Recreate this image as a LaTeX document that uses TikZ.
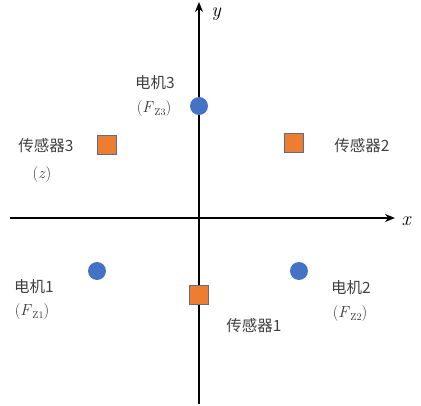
\documentclass[tikz,border=0pt]{standalone}
\usepackage{fontspec}
\newfontfamily\cjk{Noto Sans CJK SC}
\usetikzlibrary{arrows.meta}
\definecolor{mblue}{HTML}{4472C4}
\definecolor{sorange}{HTML}{ED7D31}
\definecolor{sborder}{HTML}{5A6E8C}
\newcommand{\fz}[1]{(\textit{F}\kern0.5pt\raisebox{-0.35ex}{\fontsize{10}{11}\selectfont Z#1})}
\begin{document}
\begin{tikzpicture}[x=1pt,y=-1pt,
  axis/.style={line width=2.8pt,-{Stealth[length=10pt,width=8pt]}},
  motor/.style={circle,fill=mblue,minimum size=18pt,inner sep=0pt},
  sensor/.style={rectangle,fill=sorange,draw=sborder,line width=1pt,minimum size=19pt,inner sep=0pt},
  lbl/.style={font=\cjk\fontsize{15.5}{17}\selectfont,text=black!75,inner sep=0pt},
  mlbl/.style={font=\fontsize{16}{18}\selectfont,text=black!80,inner sep=0pt},
  axlbl/.style={font=\fontsize{20}{22}\selectfont\itshape,inner sep=0pt}]
\useasboundingbox (0,0) rectangle (421,406);
\coordinate (xs) at (10,218);
\coordinate (xe) at (395,218);
\coordinate (ys) at (199,404);
\coordinate (ye) at (199,2);
\draw[axis] (xs) -- (xe);
\draw[axis] (ys) -- (ye);
\node[axlbl] (xl) at (406,221) {x};
\node[axlbl] (yl) at (216,14) {y};
\node[motor] (m3) at (199,106) {};
\node[motor] (m1) at (97,271) {};
\node[motor] (m2) at (299,271) {};
\node[sensor] (s3) at (107,145) {};
\node[sensor] (s2) at (294,143) {};
\node[sensor] (s1) at (199,295) {};
\node[lbl] (m3a) at (155,83) {电机3};
\node[mlbl] (m3b) at (154,109) {\fz{3}};
\node[lbl] (s3a) at (46,146) {传感器3};
\node[mlbl] (s3b) at (42,175) {(\textit{z})};
\node[lbl] (s2a) at (362,146) {传感器2};
\node[lbl] (m1a) at (34,287) {电机1};
\node[mlbl] (m1b) at (32,312) {\fz{1}};
\node[lbl] (m2a) at (351,288) {电机2};
\node[mlbl] (m2b) at (350,314) {\fz{2}};
\node[lbl] (s1a) at (254,326) {传感器1};
\end{tikzpicture}
\end{document}
